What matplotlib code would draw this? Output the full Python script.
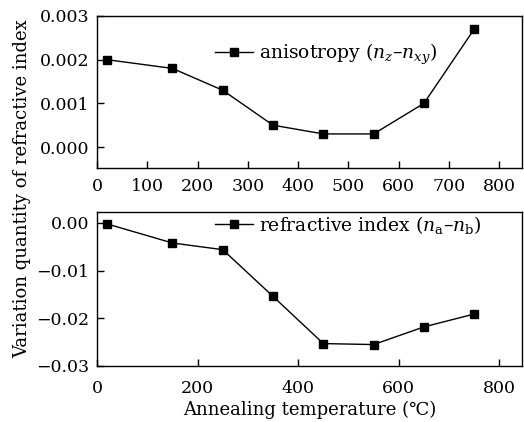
import matplotlib
matplotlib.use("Agg")
import matplotlib.pyplot as plt

plt.rcParams['font.family'] = ['DejaVu Serif']
plt.rcParams['mathtext.fontset'] = 'dejavuserif'

temps = [20, 150, 250, 350, 450, 550, 650, 750]
anisotropy = [0.0020, 0.0018, 0.0013, 0.0005, 0.0003, 0.0003, 0.0010, 0.0027]
refr_index = [-0.0002, -0.0042, -0.0056, -0.0154, -0.0253, -0.0255, -0.0218, -0.0191]

top_xticks = [0, 100, 200, 300, 400, 500, 600, 700, 800]
top_yticks = [0.000, 0.001, 0.002, 0.003]
bot_xticks = [0, 200, 400, 600, 800]
bot_yticks = [-0.03, -0.02, -0.01, 0.00]

fig = plt.figure(figsize=(5.24, 4.22), dpi=100)
ax1 = fig.add_axes([97/524, 1 - 168/422, (522-97)/524, (168-16)/422])
ax2 = fig.add_axes([97/524, 1 - 366/422, (522-97)/524, (366-212)/422])

style = dict(color='black', lw=1.0, marker='s', ms=5.5, mfc='black', mec='black')
ax1.plot(temps, anisotropy, label=r'anisotropy ($n_z$–$n_{xy}$)', **style)
ax2.plot(temps, refr_index, label=r'refractive index ($n_{\rm a}$–$n_{\rm b}$)', **style)

ax1.set_xlim(0, 845)
ax1.set_ylim(-0.00048, 0.003)
ax1.set_xticks(top_xticks)
ax1.set_yticks(top_yticks)
ax1.set_yticklabels([f"{v:.3f}" for v in top_yticks])

ax2.set_xlim(0, 845)
ax2.set_ylim(-0.03, 0.0023)
ax2.set_xticks(bot_xticks)
ax2.set_yticks(bot_yticks)
ax2.set_yticklabels([f"{v:.2f}".replace('-', '−') for v in bot_yticks])

for ax, ly in ((ax1, 0.75), (ax2, 0.916)):
    ax.tick_params(direction='in', length=5, width=1, labelsize=12.5, pad=5.5)
    for s in ax.spines.values():
        s.set_linewidth(1.0)
    ax.legend(loc='center left', bbox_to_anchor=(0.278, ly), frameon=False,
              fontsize=13.5, handlelength=2.0, handletextpad=0.35,
              borderpad=0, borderaxespad=0)

ax1.tick_params(axis='x', pad=7)
ax2.tick_params(axis='x', pad=10)

ax2.set_xlabel('Annealing temperature (℃)', fontsize=13, labelpad=3)
fig.text(0.042, 1 - 189/422, 'Variation quantity of refractive index', rotation=90,
         ha='center', va='center', fontsize=13)

fig.savefig('out.png', dpi=100)
